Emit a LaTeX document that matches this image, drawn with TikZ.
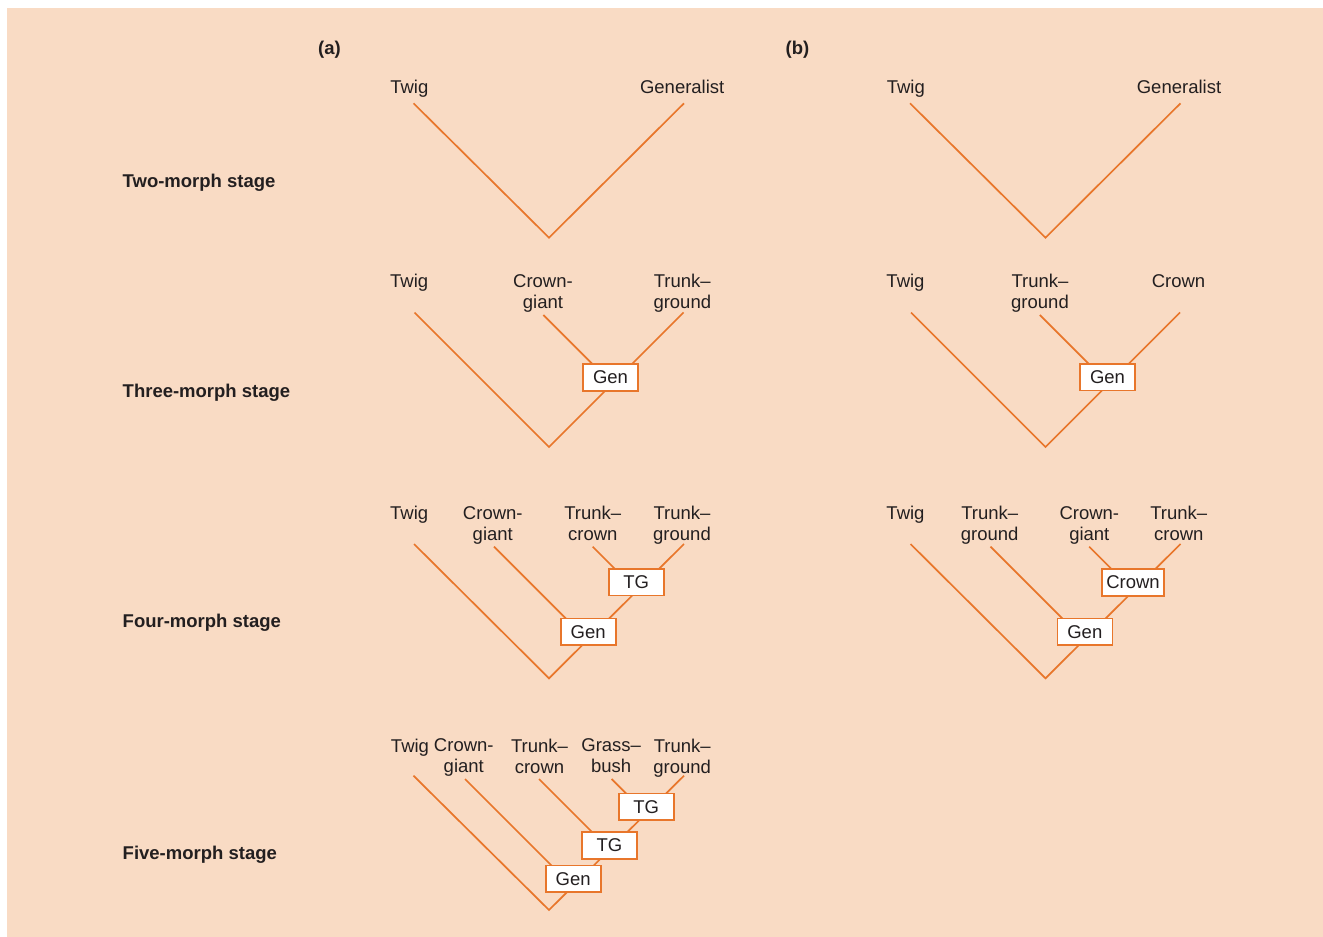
\documentclass[tikz,border=0pt]{standalone}
\usepackage{fontspec}
\setmainfont{Liberation Sans}
\definecolor{peach}{HTML}{F9DBC4}
\definecolor{branchc}{HTML}{E8762B}
\definecolor{ink}{HTML}{231F20}
\begin{document}
\begin{tikzpicture}[x=1pt,y=-1pt,
  lbl/.style={font=\fontsize{18.5}{21}\selectfont, text=ink, align=center, inner sep=0pt, anchor=north},
  stage/.style={font=\fontsize{18.5}{21}\selectfont\bfseries, text=ink, inner sep=0pt, anchor=base west},
  panel/.style={font=\fontsize{18.5}{21}\selectfont\bfseries, text=ink, inner sep=0pt, anchor=base},
  branch/.style={draw=branchc, line width=1.7pt, line join=miter},
  morphbox/.style={draw=branchc, fill=white, line width=1.6pt, font=\fontsize{18.5}{21}\selectfont, text=ink,
    minimum width=55pt, minimum height=26.5pt, inner xsep=4pt, inner ysep=0pt}]
\useasboundingbox (0,0) rectangle (1323,937);
\fill[white] (0,0) rectangle (1323,937);
\fill[peach] (7,7.7) rectangle (1323,937);

% panel and stage labels
\node[panel] (pa) at (329.5,54) {(a)};
\node[panel] (pb) at (797.5,54) {(b)};
\node[stage] (s2) at (122.5,187.5) {Two-morph stage};
\node[stage] (s3) at (122.5,397.5) {Three-morph stage};
\node[stage] (s4) at (122.5,627.5) {Four-morph stage};
\node[stage] (s5) at (122.5,859.3) {Five-morph stage};

% ================= panel (a) =================
% two-morph
\node[lbl] (a2l1) at (409.3,79.5) {Twig};
\node[lbl] (a2l2) at (682.2,79.5) {Generalist};
\coordinate (a2t1) at (413.5,103.3);
\coordinate (a2t2) at (684,103.3);
\coordinate (a2r) at (549,237.7);
\draw[branch] (a2t1) -- (a2r) -- (a2t2);

% three-morph
\node[lbl] (a3l1) at (409.2,274) {Twig};
\node[lbl] (a3l2) at (543,274) {Crown-\\giant};
\node[lbl] (a3l3) at (682.3,274) {Trunk–\\ground};
\coordinate (a3t1) at (414.5,312.5);
\coordinate (a3t2) at (543.3,315);
\coordinate (a3t3) at (683.5,312.5);
\coordinate (a3r) at (549,447);
\coordinate (a3j1) at (612.2,383.9);
\draw[branch] (a3t1) -- (a3r) -- (a3t3);
\draw[branch] (a3t2) -- (a3j1);
\node[morphbox] (a3b1) at (610.5,377.5) {Gen};

% four-morph
\node[lbl] (a4l1) at (409.2,506) {Twig};
\node[lbl] (a4l2) at (492.8,506) {Crown-\\giant};
\node[lbl] (a4l3) at (592.8,506) {Trunk–\\crown};
\node[lbl] (a4l4) at (682,506) {Trunk–\\ground};
\coordinate (a4t1) at (414,544);
\coordinate (a4t2) at (494,546.7);
\coordinate (a4t3) at (592.7,546.7);
\coordinate (a4t4) at (684,544);
\coordinate (a4r) at (549,678.3);
\coordinate (a4j1) at (587.3,640);
\coordinate (a4j2) at (636.65,590.65);
\draw[branch] (a4t1) -- (a4r) -- (a4t4);
\draw[branch] (a4t2) -- (a4j1);
\draw[branch] (a4t3) -- (a4j2);
\node[morphbox] (a4b2) at (636.2,582.3) {TG};
\node[morphbox] (a4b1) at (588.2,631.7) {Gen};

% five-morph
\node[lbl] (a5l1) at (410,738.5) {Twig};
\node[lbl] (a5l2) at (463.8,738.5) {Crown-\\giant};
\node[lbl] (a5l3) at (539.5,738.5) {Trunk–\\crown};
\node[lbl] (a5l4) at (611.2,738.5) {Grass–\\bush};
\node[lbl] (a5l5) at (682.2,738.5) {Trunk–\\ground};
\coordinate (a5t1) at (413.5,775.7);
\coordinate (a5t2) at (465,779);
\coordinate (a5t3) at (539,779);
\coordinate (a5t4) at (611.7,779);
\coordinate (a5t5) at (684,775.7);
\coordinate (a5r) at (549,910);
\coordinate (a5j1) at (572.5,886.5);
\coordinate (a5j2) at (609.5,849.5);
\coordinate (a5j3) at (645.85,813.15);
\draw[branch] (a5t1) -- (a5r) -- (a5t5);
\draw[branch] (a5t2) -- (a5j1);
\draw[branch] (a5t3) -- (a5j2);
\draw[branch] (a5t4) -- (a5j3);
\node[morphbox] (a5b3) at (646.2,806.8) {TG};
\node[morphbox] (a5b2) at (609.5,845.5) {TG};
\node[morphbox] (a5b1) at (573.2,878.7) {Gen};

% ================= panel (b) =================
\begin{scope}[xshift=496.5pt]
% two-morph
\node[lbl] (b2l1) at (409.3,79.5) {Twig};
\node[lbl] (b2l2) at (682.5,79.5) {Generalist};
\coordinate (b2t1) at (413.5,103.3);
\coordinate (b2t2) at (684,103.3);
\coordinate (b2r) at (549,237.7);
\draw[branch] (b2t1) -- (b2r) -- (b2t2);

% three-morph
\node[lbl] (b3l1) at (409,274) {Twig};
\node[lbl] (b3l2) at (543.5,274) {Trunk–\\ground};
\node[lbl] (b3l3) at (682,274) {Crown};
\coordinate (b3t1) at (414.5,312.5);
\coordinate (b3t2) at (543.3,315);
\coordinate (b3t3) at (683.5,312.5);
\coordinate (b3r) at (549,447);
\coordinate (b3j1) at (612.2,383.9);
\draw[branch] (b3t1) -- (b3r) -- (b3t3);
\draw[branch] (b3t2) -- (b3j1);
\node[morphbox] (b3b1) at (611,377.3) {Gen};

% four-morph
\node[lbl] (b4l1) at (409,506) {Twig};
\node[lbl] (b4l2) at (493.2,506) {Trunk–\\ground};
\node[lbl] (b4l3) at (592.8,506) {Crown-\\giant};
\node[lbl] (b4l4) at (682.3,506) {Trunk–\\crown};
\coordinate (b4t1) at (414,544);
\coordinate (b4t2) at (494,546.7);
\coordinate (b4t3) at (592.7,546.7);
\coordinate (b4t4) at (684,544);
\coordinate (b4r) at (549,678.3);
\coordinate (b4j1) at (587.3,640);
\coordinate (b4j2) at (636.65,590.65);
\draw[branch] (b4t1) -- (b4r) -- (b4t4);
\draw[branch] (b4t2) -- (b4j1);
\draw[branch] (b4t3) -- (b4j2);
\node[morphbox] (b4b2) at (636.5,582.5) {Crown};
\node[morphbox] (b4b1) at (588.3,631.7) {Gen};
\end{scope}
\end{tikzpicture}
\end{document}
